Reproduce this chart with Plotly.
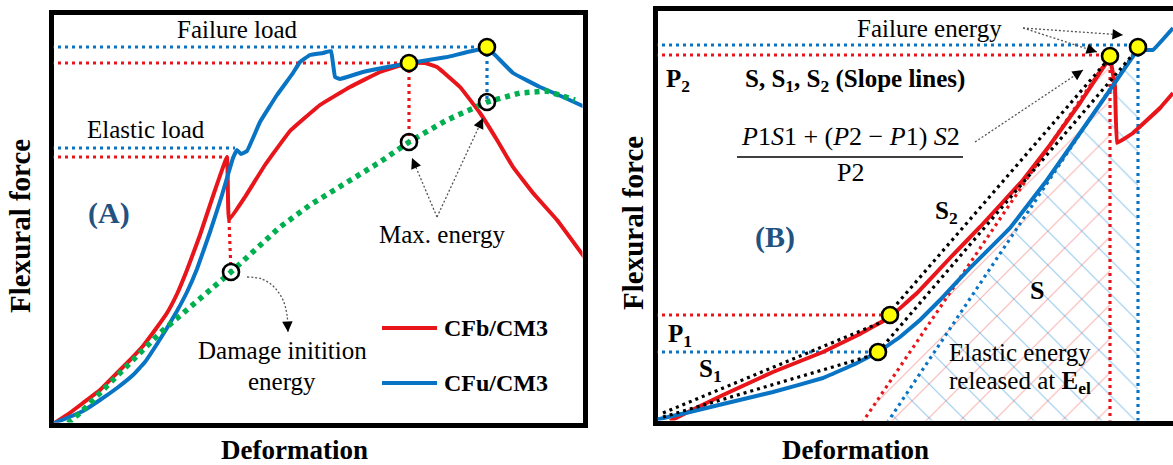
import numpy as np
import plotly.graph_objects as go

W, H = 1173, 465
FONT = "Liberation Serif, Times New Roman, serif"
RED = "#e8161b"
BLUE = "#0a74c4"
GREEN = "#00b050"
YELLOW = "#ffff00"
PANEL_BLUE = "#24527f"

# ---------------- Panel A : flexural force vs deformation (arbitrary units) ----------------
a_red_def = [2, 16, 32, 49, 66, 79, 92, 104, 116, 126, 136, 149, 162, 176, 178, 194, 214, 239,
             269, 299, 329, 357, 374, 386, 409, 429, 446, 462, 482, 506, 534]
a_red_force = [1, 10, 22, 35, 52, 65, 79, 95, 112, 131, 155, 190, 229, 268, 205, 228, 260, 294,
               320, 338, 353, 362, 362, 358, 338, 312, 285, 258, 232, 205, 167]

a_blue_def = [1, 16, 32, 49, 66, 82, 94, 106, 116, 126, 136, 146, 159, 171, 182, 186, 190, 196,
              209, 226, 242, 249, 259, 272, 280, 284, 289, 312, 359, 396, 436, 446, 462, 489, 512, 534]
a_blue_force = [1, 7, 14, 25, 37, 50, 63, 81, 97, 114, 133, 156, 193, 230, 267, 275, 271, 274,
                303, 330, 352, 363, 370, 372, 374, 348, 346, 353, 362, 368, 377, 368, 352, 338, 328, 318]

a_energy_def = [17, 29, 49, 66, 82, 109, 136, 159, 180, 204, 229, 259, 296, 329, 358, 396, 436, 469, 496, 524]
a_energy_force = [2, 12, 32, 50, 65, 92, 115, 135, 153, 175, 198, 220, 242, 263, 283, 305, 323, 332, 334, 325]

# characteristic points (deformation, force)
a_fail_blue = (436, 378)
a_fail_red = (358, 362)
a_elastic_blue = (184, 277)
a_elastic_red = (176, 268)
a_drop_red = (178, 205)
a_damage = (180, 153)
a_maxE_red = (358, 283)
a_maxE_blue = (436, 323)
a_axis_marks = [380, 362, 273]

# ---------------- Panel B ----------------
b_red_def = [15, 35, 68, 118, 168, 205, 235, 262, 295, 325, 368, 395, 425, 455, 460, 462, 478, 505, 518]
b_red_force = [2, 12, 28, 51, 71, 89, 106, 130, 165, 196, 243, 278, 320, 365, 336, 280, 290, 315, 330]

b_blue_def = [0, 35, 68, 118, 168, 200, 223, 245, 265, 285, 315, 355, 392, 425, 455, 483, 498, 518]
b_blue_force = [3, 11, 19, 31, 45, 59, 71, 86, 103, 123, 155, 195, 243, 290, 333, 373, 373, 395]

b_P1_red = (235, 108)
b_P1_blue = (223, 71)
b_P2_red = (455, 367)
b_P2_blue = (483, 376)
b_P2_axis = 373
b_unload_start_red = 207
b_unload_start_blue = 232
b_S1_red = ([8, 227], [10, 101])
b_S1_blue = ([8, 215], [6, 67])
b_S2_red = ([228, 452], [103, 362])
b_S2_blue = ([223, 480], [71, 371])

fig = go.Figure()


def line(x, y, color, width, dash=None, ax="A", smooth=0.25):
    xa, ya = ("x", "y") if ax == "A" else ("x2", "y2")
    if dash is None:
        ln = dict(color=color, width=width, shape="spline", smoothing=smooth)
    else:
        ln = dict(color=color, width=width, dash=dash)
    fig.add_trace(go.Scatter(x=x, y=y, mode="lines", xaxis=xa, yaxis=ya, line=ln,
                             hoverinfo="skip", showlegend=False))


def marks(x, y, ax="A", filled=True):
    xa, ya = ("x", "y") if ax == "A" else ("x2", "y2")
    fig.add_trace(go.Scatter(x=x, y=y, mode="markers", xaxis=xa, yaxis=ya, cliponaxis=False,
                             marker=dict(size=16, color=YELLOW if filled else "rgba(0,0,0,0)",
                                         line=dict(color="black", width=2.6)),
                             hoverinfo="skip", showlegend=False))


def arrow(xs, ys, ax="A"):
    xa, ya = ("x", "y") if ax == "A" else ("x2", "y2")
    fig.add_trace(go.Scatter(x=xs, y=ys, mode="lines", xaxis=xa, yaxis=ya,
                             line=dict(color="#555", width=1.3, dash="2px,2px", shape="spline"),
                             hoverinfo="skip", showlegend=False))
    x1, y1, x0, y0 = xs[-1], ys[-1], xs[-2], ys[-2]
    k = 9 / np.hypot(x1 - x0, y1 - y0)
    fig.add_annotation(x=x1, y=y1, ax=x1 - (x1 - x0) * k, ay=y1 - (y1 - y0) * k,
                       xref=xa, yref=ya, axref=xa, ayref=ya, text="", showarrow=True,
                       arrowhead=2, arrowsize=1.5, arrowwidth=1.4, arrowcolor="black", standoff=0)


def text(x, y, s, size=25, ax="A", color="black", xanchor="center"):
    xa, ya = ("x", "y") if ax == "A" else ("x2", "y2")
    fig.add_annotation(x=x, y=y, xref=xa, yref=ya, text=s, showarrow=False, xanchor=xanchor,
                       yanchor="middle", font=dict(family=FONT, size=size, color=color))


DOT = "3px,4px"
# ---------------- Panel A drawing ----------------
line([0, a_fail_blue[0]], [a_fail_blue[1], a_fail_blue[1]], BLUE, 3.2, DOT)
line([a_fail_blue[0]] * 2, [a_fail_blue[1], a_maxE_blue[1]], BLUE, 3.2, DOT)
line([0, a_fail_red[0]], [a_fail_red[1], a_fail_red[1]], RED, 3.2, DOT)
line([a_fail_red[0]] * 2, [a_fail_red[1], a_maxE_red[1]], RED, 3.2, DOT)
line([0, a_elastic_blue[0]], [a_elastic_blue[1]] * 2, BLUE, 3.2, DOT)
line([0, a_elastic_red[0]], [a_elastic_red[1]] * 2, RED, 3.2, DOT)
line([a_drop_red[0], a_damage[0]], [a_drop_red[1], a_damage[1]], RED, 3.2, DOT)

line(a_red_def, a_red_force, RED, 4)
line(a_blue_def, a_blue_force, BLUE, 4)
line(a_energy_def, a_energy_force, GREEN, 5.5, "5px,5px")

marks([0, 0, 0, a_fail_red[0], a_fail_blue[0]],
      a_axis_marks + [a_fail_red[1], a_fail_blue[1]])
marks([a_damage[0], a_maxE_red[0], a_maxE_blue[0]],
      [a_damage[1], a_maxE_red[1], a_maxE_blue[1]], filled=False)

arrow([386, 361], [208, 267])
arrow([386, 432], [208, 307])
arrow([196, 211, 223, 232, 236, 237], [148, 146, 138, 125, 110, 93])

text(186, 395, "Failure load")
text(95, 295, "Elastic load")
text(58, 212, "<b>(A)</b>", size=30, color=PANEL_BLUE)
text(391, 190, "Max. energy")
text(231, 75, "Damage initition")
text(231, 44, "energy")
text(391, 97, "<b>CFb/CM3</b>", size=24, xanchor="left")
text(391, 42, "<b>CFu/CM3</b>", size=24, xanchor="left")
fig.add_shape(type="line", xref="x", yref="y", x0=331, x1=386, y0=97, y1=97, line=dict(color=RED, width=4))
fig.add_shape(type="line", xref="x", yref="y", x0=331, x1=386, y0=42, y1=42, line=dict(color=BLUE, width=4))

# ---------------- Panel B drawing ----------------
fig.add_trace(go.Scatter(x=[b_unload_start_red, b_P2_red[0], b_P2_red[0], b_unload_start_red],
                         y=[0, b_P2_red[1], 0, 0], xaxis="x2", yaxis="y2", fill="toself", mode="none",
                         fillcolor="rgba(0,0,0,0)",
                         fillpattern=dict(shape="/", fgcolor="rgba(240,95,95,0.9)", bgcolor="rgba(0,0,0,0)",
                                          size=24, solidity=0.05),
                         hoverinfo="skip", showlegend=False))
fig.add_trace(go.Scatter(x=[b_unload_start_blue, b_P2_blue[0], b_P2_blue[0], b_unload_start_blue],
                         y=[0, b_P2_blue[1], 0, 0], xaxis="x2", yaxis="y2", fill="toself", mode="none",
                         fillcolor="rgba(0,0,0,0)",
                         fillpattern=dict(shape="\\", fgcolor="rgba(30,140,215,0.9)", bgcolor="rgba(0,0,0,0)",
                                          size=24, solidity=0.05),
                         hoverinfo="skip", showlegend=False))

line([0, b_P2_blue[0]], [378, 378], BLUE, 3.2, DOT, ax="B")
line([0, b_P2_red[0]], [368, 368], RED, 3.2, DOT, ax="B")
line([0, b_P1_red[0]], [b_P1_red[1]] * 2, RED, 3.2, DOT, ax="B")
line([0, b_P1_blue[0]], [b_P1_blue[1]] * 2, BLUE, 3.2, DOT, ax="B")
line([b_P2_red[0]] * 2, [b_P2_red[1], 0], RED, 3.2, DOT, ax="B")
line([b_P2_blue[0]] * 2, [b_P2_blue[1], 0], BLUE, 3.2, DOT, ax="B")
line([b_unload_start_red, b_P2_red[0]], [0, b_P2_red[1]], RED, 3.2, DOT, ax="B")
line([b_unload_start_blue, b_P2_blue[0]], [0, b_P2_blue[1]], BLUE, 3.2, DOT, ax="B")

line(b_red_def, b_red_force, RED, 4, ax="B", smooth=0.15)
line(b_blue_def, b_blue_force, BLUE, 4, ax="B", smooth=0.15)
for sx, sy in (b_S1_red, b_S1_blue, b_S2_red, b_S2_blue):
    line(sx, sy, "black", 3.2, DOT, ax="B")

marks([0, 0, 0, b_P1_red[0], b_P1_blue[0], b_P2_red[0], b_P2_blue[0]],
      [b_P2_axis, b_P1_red[1], b_P1_blue[1], b_P1_red[1], b_P1_blue[1], b_P2_red[1], b_P2_blue[1]], ax="B")

arrow([368, 442], [395, 371], ax="B")
arrow([368, 468], [395, 388], ax="B")
arrow([320, 428], [281, 353], ax="B")

text(274, 395, "Failure energy", ax="B")
text(23, 343, "<b>P<sub>2</sub></b>", size=25, ax="B")
text(200, 343, "<b>S, S<sub>1</sub>, S<sub>2</sub> (Slope lines)</b>", size=25, ax="B")
text(195, 287, "<i>P</i>1<i>S</i>1 + (<i>P</i>2 − <i>P</i>1) <i>S</i>2", size=26, ax="B")
text(195, 251, "P2", size=26, ax="B")
fig.add_shape(type="line", xref="x2", yref="y2", x0=82, x1=308, y0=266, y1=266, line=dict(color="black", width=1.5))
text(120, 186, "<b>(B)</b>", size=30, ax="B", color=PANEL_BLUE)
text(291, 211, "<b>S<sub>2</sub></b>", size=25, ax="B")
text(382, 133, "<b>S</b>", size=26, ax="B")
text(365, 71, "Elastic energy", ax="B")
text(365, 41, "released at <b>E<sub>el</sub></b>", ax="B")
text(25, 88, "<b>P<sub>1</sub></b>", size=25, ax="B")
text(55, 53, "<b>S<sub>1</sub></b>", size=25, ax="B")

# axis titles
for xc, yc in ((20, 226), (633, 223)):
    fig.add_annotation(x=xc / W, y=(H - yc) / H, xref="paper", yref="paper", text="<b>Flexural force</b>",
                       textangle=-90, showarrow=False, xanchor="center", yanchor="middle",
                       font=dict(family=FONT, size=29, color="black"))
for xc in (294, 855):
    fig.add_annotation(x=xc / W, y=(H - 450) / H, xref="paper", yref="paper", text="<b>Deformation</b>",
                       showarrow=False, xanchor="center", yanchor="middle",
                       font=dict(family=FONT, size=27, color="black"))

axis_common = dict(showgrid=False, zeroline=False, showticklabels=False, ticks="", showline=True,
                   linecolor="black", linewidth=5, layer="below traces", fixedrange=True)
fig.update_layout(
    width=W, height=H, margin=dict(l=0, r=0, t=0, b=0),
    paper_bgcolor="white", plot_bgcolor="white", showlegend=False,
    xaxis=dict(domain=[53.5 / W, 582.5 / W], range=[2.5, 531.5], mirror=True, anchor="y", **axis_common),
    yaxis=dict(domain=[(H - 422.5) / H, (H - 14.5) / H], range=[2.5, 410.5], mirror=True, anchor="x", **axis_common),
    xaxis2=dict(domain=[657.5 / W, 1.0], range=[2.5, 518], mirror=True, anchor="y2", **axis_common),
    yaxis2=dict(domain=[(H - 420.5) / H, (H - 10.5) / H], range=[2.5, 412.5], mirror=False, anchor="x2", **axis_common),
)

fig.write_html("out.html", config={"displayModeBar": False},
               post_script="document.body.style.margin='0';document.body.style.overflow='hidden';")
